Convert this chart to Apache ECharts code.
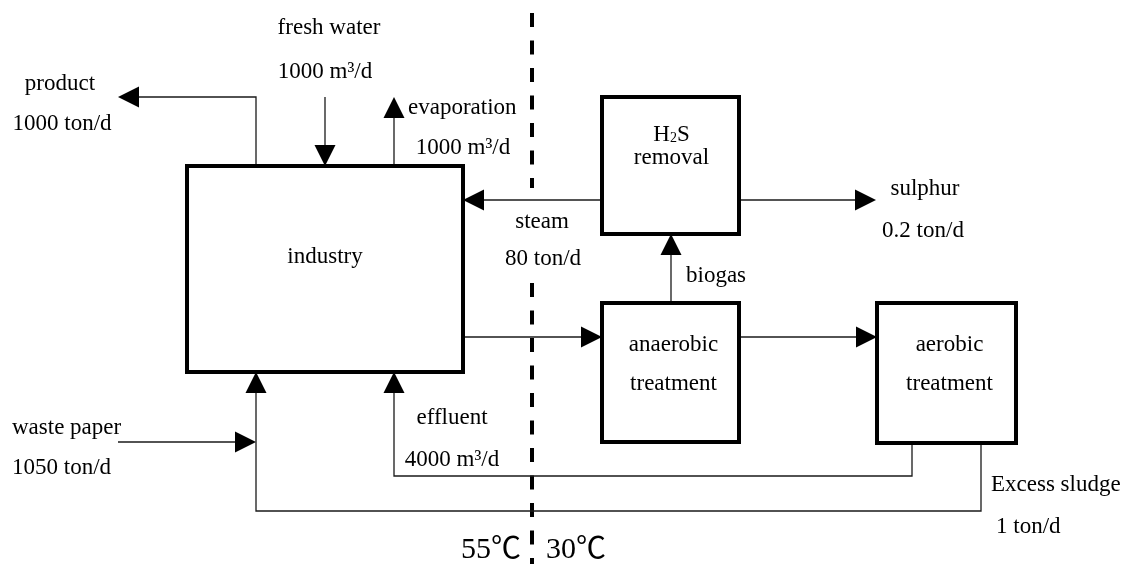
<!DOCTYPE html>
<html>
<head>
<meta charset="utf-8">
<script src="https://cdn.jsdelivr.net/npm/echarts@6/dist/echarts.min.js"></script>
<style>
html, body { margin: 0; padding: 0; background: #fff; }
#main { width: 1126px; height: 564px; }
</style>
</head>
<body>
<div id="main"></div>
<script>
// process units
var units = ['industry', 'H2S removal', 'anaerobic treatment', 'aerobic treatment'];
// streams and their daily amounts
var streams = ['product', 'fresh water', 'evaporation', 'steam', 'sulphur', 'biogas', 'effluent', 'waste paper', 'Excess sludge'];
var amounts = ['1000 ton/d', '1000 m³/d', '1000 m³/d', '80 ton/d', '0.2 ton/d', '', '4000 m³/d', '1050 ton/d', '1 ton/d'];
var temps = ['55℃', '30℃'];

// ---- layout (diagram units = pixels of the 1126x564 canvas) ----
var unitBox = [[187, 166, 463, 372], [602, 97, 739, 234], [602, 303, 739, 442], [877, 303, 1016, 443]];
var flowPaths = [
  [[256, 166], [256, 97], [118, 97]],               // product
  [[325, 97], [325, 166]],                          // fresh water
  [[394, 166], [394, 97]],                          // evaporation
  [[602, 200], [463, 200]],                         // steam
  [[739, 200], [876, 200]],                         // sulphur
  [[671, 303], [671, 234]],                         // biogas
  [[912, 443], [912, 476], [394, 476], [394, 372]], // effluent recycle
  [[118, 442], [256, 442]],                         // waste paper
  [[981, 443], [981, 511], [256, 511], [256, 372]], // sludge
  [[463, 337], [602, 337]],                         // industry -> anaerobic
  [[739, 337], [877, 337]]                          // anaerobic -> aerobic
];
// [x, y, align] for stream name and amount
var nameAt = [[60, 84, 'center'], [329, 28, 'center'], [408, 108, 'left'], [542, 222, 'center'], [925, 189, 'center'],
  [686, 276, 'left'], [452, 418, 'center'], [12, 428, 'left'], [991, 485, 'left']];
var amountAt = [[62, 124, 'center'], [325, 72, 'center'], [463, 148, 'center'], [543, 259, 'center'], [923, 231, 'center'],
  null, [452, 460, 'center'], [12, 468, 'left'], [996, 527, 'left']];
var dividerX = 532;
var dividerParts = [[13, 188], [283, 564]];

var FONT = '"Liberation Serif", "Times New Roman", "Noto Sans CJK SC", serif';
var FS = 23;

var labels = [];
streams.forEach(function (s, i) {
  labels.push({ text: s, pos: nameAt[i], size: FS });
  if (amounts[i] && amountAt[i]) labels.push({ text: amounts[i], pos: amountAt[i], size: FS });
});
labels.push({ text: temps[0], pos: [521, 550, 'right'], size: 30 });
labels.push({ text: temps[1], pos: [546, 550, 'left'], size: 30 });

function txt(p, text, size, align, extra) {
  var st = { text: text, fill: '#000', fontSize: size, fontFamily: FONT, align: align, verticalAlign: 'middle' };
  if (extra) for (var k in extra) st[k] = extra[k];
  return { type: 'text', x: p[0], y: p[1], style: st };
}

function renderBox(params, api) {
  var i = params.dataIndex, b = unitBox[i];
  var p0 = api.coord([b[0], b[1]]), p1 = api.coord([b[2], b[3]]);
  var cx = (p0[0] + p1[0]) / 2;
  var kids = [{
    type: 'rect',
    shape: { x: p0[0], y: p0[1], width: p1[0] - p0[0], height: p1[1] - p0[1] },
    style: { fill: '#fff', stroke: '#000', lineWidth: 4 }
  }];
  var name = units[i];
  if (i === 0) {
    kids.push(txt([cx, api.coord([0, 257])[1]], name, FS, 'center'));
  } else if (i === 1) {
    kids.push(txt([cx + 1, api.coord([0, 134])[1]], '{n|H}{s|2}{n|S}', FS, 'center', {
      rich: {
        n: { fontSize: FS, fontFamily: FONT, lineHeight: 22, verticalAlign: 'top' },
        s: { fontSize: 14, fontFamily: FONT, lineHeight: 14, padding: [12, 0, 0, 0], verticalAlign: 'bottom' }
      }
    }));
    kids.push(txt([cx + 1, api.coord([0, 158])[1]], name.split(' ')[1], FS, 'center'));
  } else {
    var parts = name.split(' ');
    kids.push(txt([cx + 3, api.coord([0, 345])[1]], parts[0], FS, 'center'));
    kids.push(txt([cx + 3, api.coord([0, 384])[1]], parts[1], FS, 'center'));
  }
  return { type: 'group', children: kids };
}

function renderFlow(params, api) {
  var pts = flowPaths[params.dataIndex].map(function (p) { return api.coord(p); });
  var n = pts.length, a = pts[n - 2], b = pts[n - 1];
  var dx = b[0] - a[0], dy = b[1] - a[1], len = Math.sqrt(dx * dx + dy * dy);
  var ux = dx / len, uy = dy / len, L = 21, W = 10.5;
  var base = [b[0] - ux * L, b[1] - uy * L];
  return {
    type: 'group',
    children: [
      { type: 'polyline', shape: { points: pts.slice(0, n - 1).concat([base]) },
        style: { stroke: '#1a1a1a', lineWidth: 1.3, fill: null } },
      { type: 'polygon', shape: { points: [b, [base[0] - uy * W, base[1] + ux * W], [base[0] + uy * W, base[1] - ux * W]] },
        style: { fill: '#000' } }
    ]
  };
}

function renderDivider(params, api) {
  var d = dividerParts[params.dataIndex];
  var p0 = api.coord([dividerX, d[0]]), p1 = api.coord([dividerX, d[1]]);
  return { type: 'line', shape: { x1: p0[0], y1: p0[1], x2: p1[0], y2: p1[1] },
    style: { stroke: '#000', lineWidth: 4, lineDash: [14, 13.5] } };
}

function renderLabel(params, api) {
  var l = labels[params.dataIndex];
  return txt(api.coord([l.pos[0], l.pos[1]]), l.text, l.size, l.pos[2]);
}

var chart = echarts.init(document.getElementById('main'));
chart.setOption({
  animation: false,
  backgroundColor: '#fff',
  grid: { left: 0, right: 0, top: 0, bottom: 0 },
  xAxis: { type: 'value', min: 0, max: 1126, show: false },
  yAxis: { type: 'value', min: 0, max: 564, inverse: true, show: false },
  series: [
    { type: 'custom', renderItem: renderDivider, silent: true, z: 1,
      data: dividerParts.map(function (d) { return [dividerX, d[0]]; }) },
    { type: 'custom', renderItem: renderFlow, silent: true, z: 2,
      data: flowPaths.map(function (p) { return p[0]; }) },
    { type: 'custom', renderItem: renderBox, silent: true, z: 3,
      data: unitBox.map(function (b) { return [b[0], b[1]]; }) },
    { type: 'custom', renderItem: renderLabel, silent: true, z: 4,
      data: labels.map(function (l) { return [l.pos[0], l.pos[1]]; }) }
  ]
});
</script>
</body>
</html>
